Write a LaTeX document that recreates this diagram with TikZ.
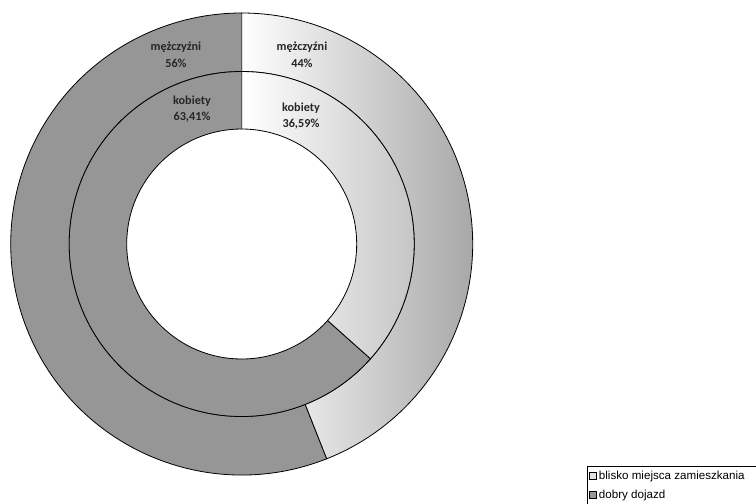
\documentclass[tikz,border=0pt]{standalone}
\usepackage{fontspec}
\setmainfont{Carlito}
\newfontfamily\legendfont{Liberation Sans}
\usetikzlibrary{positioning}
\definecolor{darkfill}{RGB}{150,150,150}
\definecolor{keylight}{RGB}{225,225,225}
\tikzset{
  ring/.style={draw=black,line width=0.8pt},
  lab/.style={align=center,inner sep=0pt,font=\fontsize{12.2}{16.5}\selectfont\bfseries,text=black!85},
  keybox/.style={draw=black,line width=0.5pt,minimum size=7pt,inner sep=0pt},
  legendtext/.style={inner sep=0pt,anchor=west,font=\legendfont\fontsize{11.6}{13}\selectfont}
}
\begin{document}
\begin{tikzpicture}[x=1pt,y=1pt,yscale=-1]
\useasboundingbox (0,0) rectangle (756,504);
\fill[white] (0,0) rectangle (756,504);

%rings, angles clockwise from the top (-90)
\begin{scope}[shift={(241.7,244)}]
%outer ring: dobry dojazd 56%
\fill[darkfill,ring] (68.4:231) arc[start angle=68.4,end angle=270,radius=231] -- (270:172.5) arc[start angle=270,end angle=68.4,radius=172.5] -- cycle;
%outer ring: blisko 44%
\shade[ring,left color=white,right color=gray!68] (-90:231) arc[start angle=-90,end angle=68.4,radius=231] -- (68.4:172.5) arc[start angle=68.4,end angle=-90,radius=172.5] -- cycle;
%inner ring: dobry dojazd 63,41%
\fill[darkfill,ring] (41.7:172.5) arc[start angle=41.7,end angle=270,radius=172.5] -- (270:115) arc[start angle=270,end angle=41.7,radius=115] -- cycle;
%inner ring: blisko 36,59%
\shade[ring,left color=white,right color=gray!45] (-90:172.5) arc[start angle=-90,end angle=41.7,radius=172.5] -- (41.7:115) arc[start angle=41.7,end angle=-90,radius=115] -- cycle;
\end{scope}

% labels
\node[lab] (men1) at (176,54.6) {mężczyźni\\56\%};
\node[lab] (men2) at (302,54.6) {mężczyźni\\44\%};
\node[lab] (women1) at (192,109) {kobiety\\63,41\%};
\node[lab] (women2) at (301,116) {kobiety\\36,59\%};

% legend
\draw[line width=0.5pt] (587,466) rectangle (760,512);
\node[keybox,fill=keylight] (key1) at (593,476) {};
\node[legendtext,right=2pt of key1] (txt1) {blisko miejsca zamieszkania};
\node[keybox,fill=darkfill] (key2) at (593,495) {};
\node[legendtext,right=2pt of key2] (txt2) {dobry dojazd};
\end{tikzpicture}
\end{document}
